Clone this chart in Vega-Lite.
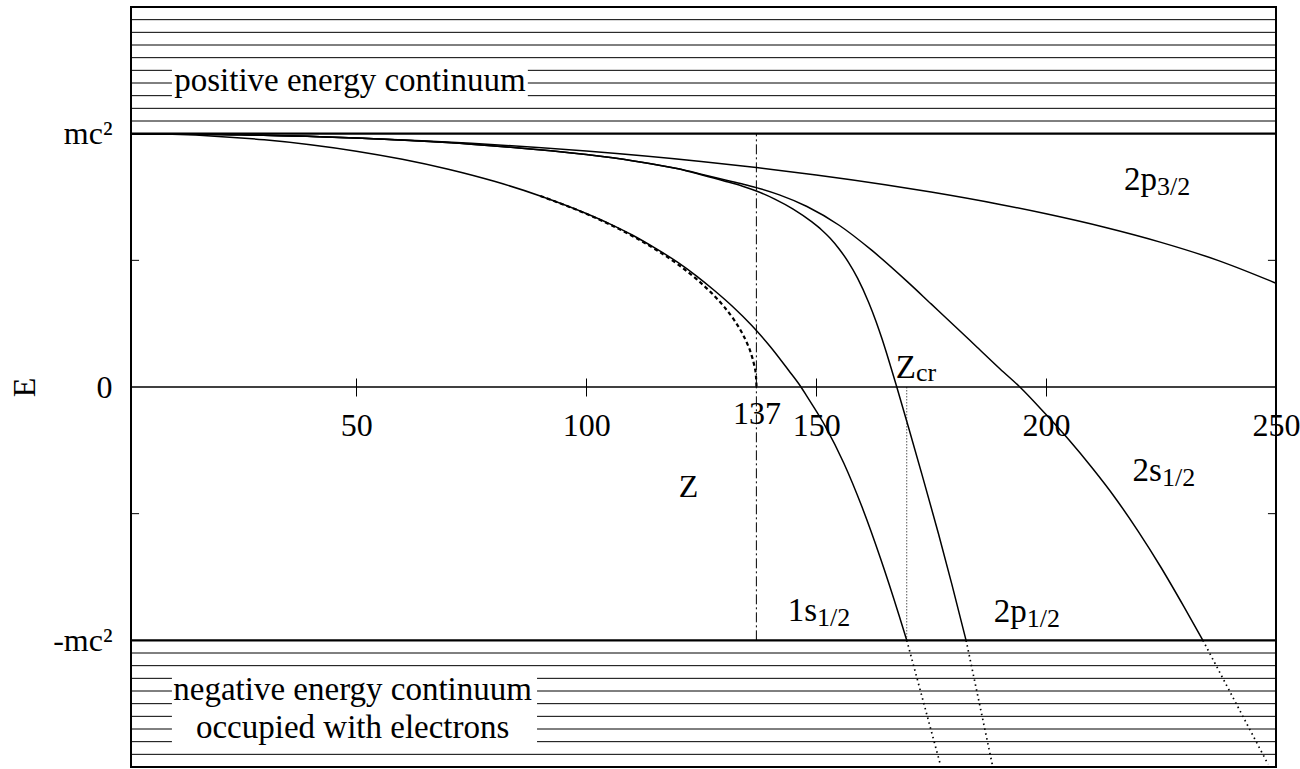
{
  "$schema": "https://vega.github.io/schema/vega-lite/v6.json",
  "width": 1145,
  "height": 760,
  "autosize": {"type": "none"},
  "padding": {"left": 131, "top": 7, "right": 24, "bottom": 2},
  "background": "white",
  "config": {
    "view": {"stroke": "black", "strokeWidth": 2},
    "font": "Liberation Serif",
    "text": {"font": "Liberation Serif", "fontSize": 33, "color": "black"}
  },
  "datasets": {
    "continuum": [
      {"k": "edge", "z1": 1, "z2": 250, "e": 1},
      {"k": "edge", "z1": 1, "z2": 250, "e": -1},
      {"k": "level", "z1": 1, "z2": 250, "e": 1.05},
      {"k": "level", "z1": 1, "z2": 250, "e": 1.10},
      {"k": "level", "z1": 1, "z2": 9.9, "e": 1.15},
      {"k": "level", "z1": 87.3, "z2": 250, "e": 1.15},
      {"k": "level", "z1": 1, "z2": 9.9, "e": 1.20},
      {"k": "level", "z1": 87.3, "z2": 250, "e": 1.20},
      {"k": "level", "z1": 1, "z2": 9.9, "e": 1.25},
      {"k": "level", "z1": 87.3, "z2": 250, "e": 1.25},
      {"k": "level", "z1": 1, "z2": 250, "e": 1.30},
      {"k": "level", "z1": 1, "z2": 250, "e": 1.35},
      {"k": "level", "z1": 1, "z2": 250, "e": 1.40},
      {"k": "level", "z1": 1, "z2": 250, "e": 1.45},
      {"k": "level", "z1": 1, "z2": 250, "e": -1.05},
      {"k": "level", "z1": 1, "z2": 250, "e": -1.10},
      {"k": "level", "z1": 1, "z2": 9.9, "e": -1.15},
      {"k": "level", "z1": 89.3, "z2": 250, "e": -1.15},
      {"k": "level", "z1": 1, "z2": 9.9, "e": -1.20},
      {"k": "level", "z1": 89.3, "z2": 250, "e": -1.20},
      {"k": "level", "z1": 1, "z2": 9.9, "e": -1.25},
      {"k": "level", "z1": 89.3, "z2": 250, "e": -1.25},
      {"k": "level", "z1": 1, "z2": 9.9, "e": -1.30},
      {"k": "level", "z1": 89.3, "z2": 250, "e": -1.30},
      {"k": "level", "z1": 1, "z2": 9.9, "e": -1.35},
      {"k": "level", "z1": 89.3, "z2": 250, "e": -1.35},
      {"k": "level", "z1": 1, "z2": 9.9, "e": -1.40},
      {"k": "level", "z1": 89.3, "z2": 250, "e": -1.40},
      {"k": "level", "z1": 1, "z2": 250, "e": -1.45}
    ],
    "yticks": [
      {"z1": 1, "z2": 2.75, "e": 0.5},
      {"z1": 1, "z2": 2.75, "e": -0.5},
      {"z1": 248.25, "z2": 250, "e": 0.5},
      {"z1": 248.25, "z2": 250, "e": -0.5}
    ],
    "verticals": [
      {"k": "limit", "z": 137, "e1": -1, "e2": 1},
      {"k": "critical", "z": 169.7, "e1": -1, "e2": 0}
    ],
    "curves": [
      {"s": "1s", "p": "bound", "Z": 1, "E": 1.0},
      {"s": "1s", "p": "bound", "Z": 10, "E": 0.9973},
      {"s": "1s", "p": "bound", "Z": 20, "E": 0.9893},
      {"s": "1s", "p": "bound", "Z": 30, "E": 0.9757},
      {"s": "1s", "p": "bound", "Z": 40, "E": 0.9565},
      {"s": "1s", "p": "bound", "Z": 50, "E": 0.931},
      {"s": "1s", "p": "bound", "Z": 60, "E": 0.899},
      {"s": "1s", "p": "bound", "Z": 70, "E": 0.8597},
      {"s": "1s", "p": "bound", "Z": 80, "E": 0.812},
      {"s": "1s", "p": "bound", "Z": 90, "E": 0.7542},
      {"s": "1s", "p": "bound", "Z": 100, "E": 0.685},
      {"s": "1s", "p": "bound", "Z": 105, "E": 0.645},
      {"s": "1s", "p": "bound", "Z": 110, "E": 0.6},
      {"s": "1s", "p": "bound", "Z": 115, "E": 0.548},
      {"s": "1s", "p": "bound", "Z": 120, "E": 0.491},
      {"s": "1s", "p": "bound", "Z": 124, "E": 0.438},
      {"s": "1s", "p": "bound", "Z": 128, "E": 0.379},
      {"s": "1s", "p": "bound", "Z": 132, "E": 0.315},
      {"s": "1s", "p": "bound", "Z": 136, "E": 0.243},
      {"s": "1s", "p": "bound", "Z": 140, "E": 0.16},
      {"s": "1s", "p": "bound", "Z": 144, "E": 0.066},
      {"s": "1s", "p": "bound", "Z": 146.7, "E": 0.0},
      {"s": "1s", "p": "bound", "Z": 148, "E": -0.037},
      {"s": "1s", "p": "bound", "Z": 152, "E": -0.155},
      {"s": "1s", "p": "bound", "Z": 156, "E": -0.3},
      {"s": "1s", "p": "bound", "Z": 160, "E": -0.475},
      {"s": "1s", "p": "bound", "Z": 164, "E": -0.677},
      {"s": "1s", "p": "bound", "Z": 168, "E": -0.9},
      {"s": "1s", "p": "bound", "Z": 169.7, "E": -1.0},
      {"s": "1s", "p": "dived", "Z": 169.7, "E": -1.0},
      {"s": "1s", "p": "dived", "Z": 173.35, "E": -1.245},
      {"s": "1s", "p": "dived", "Z": 177, "E": -1.49},
      {"s": "1s", "p": "point", "Z": 90, "E": 0.7542},
      {"s": "1s", "p": "point", "Z": 100, "E": 0.6837},
      {"s": "1s", "p": "point", "Z": 105, "E": 0.6426},
      {"s": "1s", "p": "point", "Z": 110, "E": 0.5964},
      {"s": "1s", "p": "point", "Z": 115, "E": 0.5439},
      {"s": "1s", "p": "point", "Z": 120, "E": 0.4829},
      {"s": "1s", "p": "point", "Z": 124, "E": 0.4257},
      {"s": "1s", "p": "point", "Z": 127, "E": 0.3756},
      {"s": "1s", "p": "point", "Z": 130, "E": 0.3162},
      {"s": "1s", "p": "point", "Z": 132, "E": 0.2687},
      {"s": "1s", "p": "point", "Z": 134, "E": 0.2095},
      {"s": "1s", "p": "point", "Z": 135, "E": 0.1718},
      {"s": "1s", "p": "point", "Z": 136, "E": 0.1229},
      {"s": "1s", "p": "point", "Z": 136.5, "E": 0.0883},
      {"s": "1s", "p": "point", "Z": 136.9, "E": 0.0446},
      {"s": "1s", "p": "point", "Z": 137.036, "E": 0.0},
      {"s": "2p3", "p": "bound", "Z": 1, "E": 1.0},
      {"s": "2p3", "p": "bound", "Z": 25, "E": 0.9958},
      {"s": "2p3", "p": "bound", "Z": 50, "E": 0.9832},
      {"s": "2p3", "p": "bound", "Z": 75, "E": 0.9618},
      {"s": "2p3", "p": "bound", "Z": 100, "E": 0.9311},
      {"s": "2p3", "p": "bound", "Z": 125, "E": 0.8899},
      {"s": "2p3", "p": "bound", "Z": 137, "E": 0.8661},
      {"s": "2p3", "p": "bound", "Z": 150, "E": 0.837},
      {"s": "2p3", "p": "bound", "Z": 165, "E": 0.7985},
      {"s": "2p3", "p": "bound", "Z": 175, "E": 0.7696},
      {"s": "2p3", "p": "bound", "Z": 190, "E": 0.7207},
      {"s": "2p3", "p": "bound", "Z": 200, "E": 0.6837},
      {"s": "2p3", "p": "bound", "Z": 212.5, "E": 0.6316},
      {"s": "2p3", "p": "bound", "Z": 225, "E": 0.571},
      {"s": "2p3", "p": "bound", "Z": 237.5, "E": 0.499},
      {"s": "2p3", "p": "bound", "Z": 250, "E": 0.4098},
      {"s": "2s", "p": "bound", "Z": 1, "E": 1.0},
      {"s": "2s", "p": "bound", "Z": 25, "E": 0.9958},
      {"s": "2s", "p": "bound", "Z": 50, "E": 0.9826},
      {"s": "2s", "p": "bound", "Z": 75, "E": 0.9584},
      {"s": "2s", "p": "bound", "Z": 100, "E": 0.9175},
      {"s": "2s", "p": "bound", "Z": 110, "E": 0.8934},
      {"s": "2s", "p": "bound", "Z": 120, "E": 0.8611},
      {"s": "2s", "p": "bound", "Z": 125, "E": 0.84},
      {"s": "2s", "p": "bound", "Z": 130, "E": 0.818},
      {"s": "2s", "p": "bound", "Z": 134, "E": 0.801},
      {"s": "2s", "p": "bound", "Z": 137, "E": 0.787},
      {"s": "2s", "p": "bound", "Z": 142, "E": 0.7585},
      {"s": "2s", "p": "bound", "Z": 148, "E": 0.7126},
      {"s": "2s", "p": "bound", "Z": 155, "E": 0.6385},
      {"s": "2s", "p": "bound", "Z": 162, "E": 0.541},
      {"s": "2s", "p": "bound", "Z": 170, "E": 0.413},
      {"s": "2s", "p": "bound", "Z": 175, "E": 0.328},
      {"s": "2s", "p": "bound", "Z": 180, "E": 0.243},
      {"s": "2s", "p": "bound", "Z": 185, "E": 0.157},
      {"s": "2s", "p": "bound", "Z": 190, "E": 0.071},
      {"s": "2s", "p": "bound", "Z": 194.3, "E": 0.0},
      {"s": "2s", "p": "bound", "Z": 200, "E": -0.109},
      {"s": "2s", "p": "bound", "Z": 205, "E": -0.2095},
      {"s": "2s", "p": "bound", "Z": 210, "E": -0.319},
      {"s": "2s", "p": "bound", "Z": 215, "E": -0.437},
      {"s": "2s", "p": "bound", "Z": 220, "E": -0.569},
      {"s": "2s", "p": "bound", "Z": 225, "E": -0.7125},
      {"s": "2s", "p": "bound", "Z": 230, "E": -0.868},
      {"s": "2s", "p": "bound", "Z": 234.1, "E": -1.0},
      {"s": "2s", "p": "dived", "Z": 234.1, "E": -1.0},
      {"s": "2s", "p": "dived", "Z": 241.2, "E": -1.245},
      {"s": "2s", "p": "dived", "Z": 248.3, "E": -1.49},
      {"s": "2p1", "p": "bound", "Z": 1, "E": 1.0},
      {"s": "2p1", "p": "bound", "Z": 25, "E": 0.9958},
      {"s": "2p1", "p": "bound", "Z": 50, "E": 0.9826},
      {"s": "2p1", "p": "bound", "Z": 75, "E": 0.9584},
      {"s": "2p1", "p": "bound", "Z": 100, "E": 0.9175},
      {"s": "2p1", "p": "bound", "Z": 110, "E": 0.8934},
      {"s": "2p1", "p": "bound", "Z": 120, "E": 0.8611},
      {"s": "2p1", "p": "bound", "Z": 125, "E": 0.838},
      {"s": "2p1", "p": "bound", "Z": 130, "E": 0.8135},
      {"s": "2p1", "p": "bound", "Z": 134, "E": 0.7925},
      {"s": "2p1", "p": "bound", "Z": 137, "E": 0.7735},
      {"s": "2p1", "p": "bound", "Z": 141, "E": 0.7418},
      {"s": "2p1", "p": "bound", "Z": 145, "E": 0.7022},
      {"s": "2p1", "p": "bound", "Z": 149, "E": 0.6526},
      {"s": "2p1", "p": "bound", "Z": 151.2, "E": 0.62},
      {"s": "2p1", "p": "bound", "Z": 153, "E": 0.5882},
      {"s": "2p1", "p": "bound", "Z": 155, "E": 0.5449},
      {"s": "2p1", "p": "bound", "Z": 157, "E": 0.4931},
      {"s": "2p1", "p": "bound", "Z": 159, "E": 0.4299},
      {"s": "2p1", "p": "bound", "Z": 161.4, "E": 0.3347},
      {"s": "2p1", "p": "bound", "Z": 163, "E": 0.2599},
      {"s": "2p1", "p": "bound", "Z": 164.3, "E": 0.1913},
      {"s": "2p1", "p": "bound", "Z": 166, "E": 0.0931},
      {"s": "2p1", "p": "bound", "Z": 167.5, "E": 0.002},
      {"s": "2p1", "p": "bound", "Z": 170, "E": -0.154},
      {"s": "2p1", "p": "bound", "Z": 173, "E": -0.345},
      {"s": "2p1", "p": "bound", "Z": 176.6, "E": -0.579},
      {"s": "2p1", "p": "bound", "Z": 179.5, "E": -0.778},
      {"s": "2p1", "p": "bound", "Z": 182.6, "E": -1.0},
      {"s": "2p1", "p": "dived", "Z": 182.6, "E": -1.0},
      {"s": "2p1", "p": "dived", "Z": 185.45, "E": -1.245},
      {"s": "2p1", "p": "dived", "Z": 188.3, "E": -1.49}
    ],
    "labels": [
      {"role": "main", "Z": 150.2, "E": -0.925, "t": "1s"},
      {"role": "sub", "Z": 150.2, "E": -0.925, "t": "1/2"},
      {"role": "main", "Z": 195.8, "E": -0.927, "t": "2p"},
      {"role": "sub", "Z": 195.8, "E": -0.927, "t": "1/2"},
      {"role": "main", "Z": 225.2, "E": -0.37, "t": "2s"},
      {"role": "sub", "Z": 225.2, "E": -0.37, "t": "1/2"},
      {"role": "main", "Z": 224.1, "E": 0.778, "t": "2p"},
      {"role": "sub", "Z": 224.1, "E": 0.778, "t": "3/2"},
      {"role": "main", "Z": 171.7, "E": 0.034, "t": "Z"},
      {"role": "subcr", "Z": 171.7, "E": 0.034, "t": "cr"},
      {"role": "center", "Z": 48.6, "E": 1.17, "t": "positive energy continuum"},
      {"role": "center", "Z": 49.2, "E": -1.236, "t": "negative energy continuum"},
      {"role": "center", "Z": 49.2, "E": -1.385, "t": "occupied with electrons"}
    ]
  },
  "layer": [
    {
      "data": {"values": [{"e": 0}]},
      "mark": {"type": "rule", "color": "black", "strokeWidth": 1.3},
      "encoding": {
        "y": {
          "field": "e", "type": "quantitative",
          "scale": {"domain": [-1.5, 1.5], "nice": false, "zero": false},
          "axis": {
            "orient": "left", "values": [-1, 0, 1],
            "labelExpr": "datum.value == 1 ? 'mc²' : datum.value == -1 ? '-mc²' : '0'",
            "ticks": false, "tickSize": 0, "domain": false, "grid": false,
            "labelPadding": 19, "labelFontSize": 32, "labelFont": "Liberation Serif", "labelColor": "black",
            "title": "E", "titleFontSize": 32, "titleFont": "Liberation Serif", "titleFontWeight": "normal",
            "titleColor": "black", "titleAngle": -90, "titleBaseline": "alphabetic", "titleAlign": "center",
            "titleX": -97, "titleY": 380
          }
        }
      }
    },
    {
      "data": {"name": "continuum"},
      "transform": [{"filter": "datum.k == 'level'"}],
      "mark": {"type": "rule", "color": "black", "strokeWidth": 1},
      "encoding": {
        "x": {
          "field": "z1", "type": "quantitative",
          "scale": {"domain": [1, 250], "nice": false, "zero": false},
          "axis": {
            "orient": "bottom", "offset": -389, "values": [50, 100, 137, 150, 200, 250],
            "domain": false, "grid": false, "ticks": true, "tickSize": 18, "tickColor": "black", "tickWidth": 1,
            "tickOpacity": {"condition": {"test": "datum.value == 137 || datum.value == 250", "value": 0}, "value": 1},
            "labelPadding": {"condition": {"test": "datum.value == 137", "value": 27}, "value": 39.5},
            "labelBaseline": "alphabetic", "labelFontSize": 32, "labelFont": "Liberation Serif", "labelColor": "black",
            "labelOverlap": false, "labelBound": false, "labelFlush": false,
            "title": "Z", "titleFontSize": 32, "titleFont": "Liberation Serif", "titleFontWeight": "normal",
            "titleColor": "black", "titleBaseline": "alphabetic", "titleAlign": "center",
            "titleX": 557, "titleY": 118.7
          }
        },
        "x2": {"field": "z2"},
        "y": {"field": "e", "type": "quantitative"}
      }
    },
    {
      "data": {"name": "continuum"},
      "transform": [{"filter": "datum.k == 'edge'"}],
      "mark": {"type": "rule", "color": "black", "strokeWidth": 2.2},
      "encoding": {
        "x": {"field": "z1", "type": "quantitative"},
        "x2": {"field": "z2"},
        "y": {"field": "e", "type": "quantitative"}
      }
    },
    {
      "data": {"name": "yticks"},
      "mark": {"type": "rule", "color": "black", "strokeWidth": 1},
      "encoding": {
        "x": {"field": "z1", "type": "quantitative"},
        "x2": {"field": "z2"},
        "y": {"field": "e", "type": "quantitative"}
      }
    },
    {
      "data": {"name": "verticals"},
      "transform": [{"filter": "datum.k == 'limit'"}],
      "mark": {"type": "rule", "color": "black", "strokeWidth": 1, "strokeDash": [10, 3, 2, 3]},
      "encoding": {
        "x": {"field": "z", "type": "quantitative"},
        "y": {"field": "e1", "type": "quantitative"},
        "y2": {"field": "e2"}
      }
    },
    {
      "data": {"name": "verticals"},
      "transform": [{"filter": "datum.k == 'critical'"}],
      "mark": {"type": "rule", "color": "black", "strokeWidth": 1, "strokeDash": [1, 2]},
      "encoding": {
        "x": {"field": "z", "type": "quantitative"},
        "y": {"field": "e1", "type": "quantitative"},
        "y2": {"field": "e2"}
      }
    },
    {
      "data": {"name": "curves"},
      "transform": [{"filter": "datum.p == 'bound'"}],
      "mark": {"type": "line", "color": "black", "strokeWidth": 1.5, "interpolate": "monotone"},
      "encoding": {
        "x": {"field": "Z", "type": "quantitative"},
        "y": {"field": "E", "type": "quantitative"},
        "detail": {"field": "s"}
      }
    },
    {
      "data": {"name": "curves"},
      "transform": [{"filter": "datum.p == 'point'"}],
      "mark": {"type": "line", "color": "black", "strokeWidth": 2.2, "strokeDash": [4, 3], "interpolate": "monotone"},
      "encoding": {
        "x": {"field": "Z", "type": "quantitative"},
        "y": {"field": "E", "type": "quantitative"},
        "detail": {"field": "s"}
      }
    },
    {
      "data": {"name": "curves"},
      "transform": [{"filter": "datum.p == 'dived'"}],
      "mark": {"type": "line", "color": "black", "strokeWidth": 1.7, "strokeDash": [1.5, 3.5]},
      "encoding": {
        "x": {"field": "Z", "type": "quantitative"},
        "y": {"field": "E", "type": "quantitative"},
        "detail": {"field": "s"}
      }
    },
    {
      "data": {"name": "labels"},
      "transform": [{"filter": "datum.role == 'main'"}],
      "mark": {"type": "text", "align": "right", "baseline": "alphabetic", "fontSize": 33},
      "encoding": {
        "x": {"field": "Z", "type": "quantitative"},
        "y": {"field": "E", "type": "quantitative"},
        "text": {"field": "t"}
      }
    },
    {
      "data": {"name": "labels"},
      "transform": [{"filter": "datum.role == 'sub'"}],
      "mark": {"type": "text", "align": "left", "baseline": "alphabetic", "fontSize": 26, "dy": 5},
      "encoding": {
        "x": {"field": "Z", "type": "quantitative"},
        "y": {"field": "E", "type": "quantitative"},
        "text": {"field": "t"}
      }
    },
    {
      "data": {"name": "labels"},
      "transform": [{"filter": "datum.role == 'subcr'"}],
      "mark": {"type": "text", "align": "left", "baseline": "alphabetic", "fontSize": 26, "dy": 3},
      "encoding": {
        "x": {"field": "Z", "type": "quantitative"},
        "y": {"field": "E", "type": "quantitative"},
        "text": {"field": "t"}
      }
    },
    {
      "data": {"name": "labels"},
      "transform": [{"filter": "datum.role == 'center'"}],
      "mark": {"type": "text", "align": "center", "baseline": "alphabetic", "fontSize": 33},
      "encoding": {
        "x": {"field": "Z", "type": "quantitative"},
        "y": {"field": "E", "type": "quantitative"},
        "text": {"field": "t"}
      }
    }
  ]
}
